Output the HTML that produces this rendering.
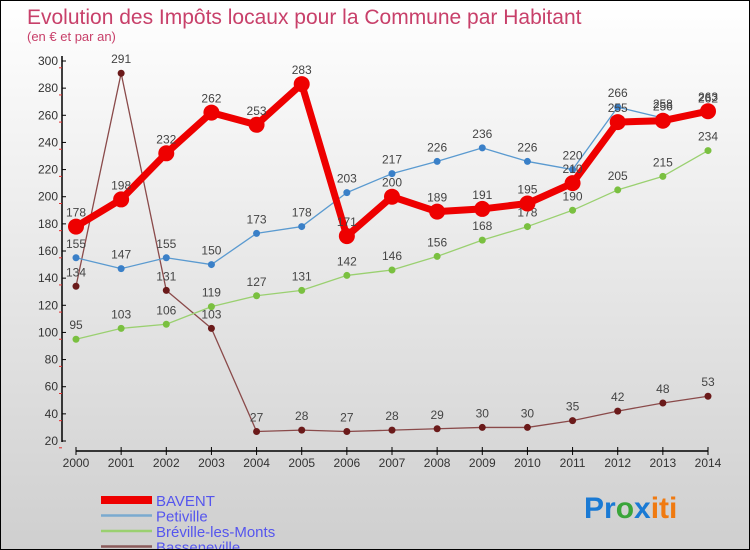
<!DOCTYPE html>
<html><head><meta charset="utf-8"><style>
body{margin:0;}
#c{width:750px;height:550px;position:relative;overflow:hidden;box-sizing:border-box;border:1px solid #000;background:linear-gradient(#ffffff,#cfcfcf);font-family:"Liberation Sans",sans-serif;}
</style></head><body>
<div id="c">
<svg id="s" width="750" height="550" style="position:absolute;left:0;top:0">
<text x="26" y="23" font-size="21" fill="#c8406a">Evolution des Impôts locaux pour la Commune par Habitant</text>
<text x="26" y="40" font-size="13" fill="#c8406a">(en € et par an)</text>
<g id="axes"></g><g id="series"></g><g id="legend"></g>
<text x="583" y="517" font-size="30" font-weight="bold"><tspan fill="#1a7ad4">Pr</tspan><tspan fill="#3aa53a">o</tspan><tspan fill="#1a7ad4">x</tspan><tspan fill="#f07a10">iti</tspan></text>
</svg>
</div>
<script>
const years=[2000,2001,2002,2003,2004,2005,2006,2007,2008,2009,2010,2011,2012,2013,2014];
const yTicks=[20,40,60,80,100,120,140,160,180,200,220,240,260,280,300];
const bavent=[178,198,232,262,253,283,171,200,189,191,195,210,255,256,263];
const petiville=[155,147,155,150,173,178,203,217,226,236,226,220,266,258,262];
const breville=[95,103,106,119,127,131,142,146,156,168,178,190,205,215,234];
const basseneville=[134,291,131,103,27,28,27,28,29,30,30,35,42,48,53];
const names=["BAVENT","Petiville","Bréville-les-Monts","Basseneville"];
const NS="http://www.w3.org/2000/svg";
const X=i=>75+i*(707-75)/14;
const Y=v=>440-(v-20)*(380/280);
function mk(t,a,p){const e=document.createElementNS(NS,t);for(const k in a)e.setAttribute(k,a[k]);p.appendChild(e);return e;}
const ax=document.getElementById('axes');
mk('line',{x1:61,y1:55,x2:61,y2:441,stroke:'#000','stroke-width':1.5},ax);
mk('line',{x1:75,y1:450,x2:707,y2:450,stroke:'#000','stroke-width':1.5},ax);
yTicks.forEach(v=>{
 mk('line',{x1:61,y1:Y(v),x2:65,y2:Y(v),stroke:'#000'},ax);
 mk('line',{x1:58,y1:Y(v)+6.8,x2:61,y2:Y(v)+6.8,stroke:'#e03030'},ax);
 const t=mk('text',{x:57,y:Y(v)+4,'font-size':12,fill:'#333','text-anchor':'end'},ax);t.textContent=v;
 
 
});
years.forEach((y,i)=>{
 mk('line',{x1:X(i),y1:446,x2:X(i),y2:454,stroke:'#000'},ax);
 const t=mk('text',{x:X(i),y:466,'font-size':12,fill:'#333','text-anchor':'middle'},ax);t.textContent=y;
 
 
});
const sg=document.getElementById('series');
function draw(vals,color,lw,r,dot,name){
 const g=mk('g',{},sg);
 
 
 mk('polyline',{points:vals.map((v,i)=>X(i)+','+Y(v)).join(' '),fill:'none',stroke:color,'stroke-width':lw,'stroke-linejoin':'round'},g);
 vals.forEach((v,i)=>{
  const c=mk('circle',{cx:X(i),cy:Y(v),r:r,fill:dot},g);
  
  
  const t=mk('text',{x:X(i),y:Y(v)-10,'font-size':12,fill:'#444','text-anchor':'middle'},g);t.textContent=v;
  
  
 });
}
draw(basseneville,'#8a4a4a',1.3,3.5,'#6b1a1a','basseneville-series');
draw(breville,'#9ad070',1.3,3.5,'#7ac040','breville-series');
draw(petiville,'#5a9ad0',1.3,3.5,'#3a80c8','petiville-series');
draw(bavent,'#ee0000',7,8,'#ee0000','bavent-series');
const lg=document.getElementById('legend');
const cols=['#ee0000','#7aaad0','#9ad070','#8a5a5a'],lws=[8,2.5,2.5,2.5];
names.forEach((n,k)=>{
 const y=493+k*15.5;
 const g=mk('g',{},lg);
 
 
 mk('line',{x1:100,y1:y+6,x2:151,y2:y+6,stroke:cols[k],'stroke-width':lws[k]},g);
 const t=mk('text',{x:155,y:y+12,'font-size':15,fill:'#5555ee'},g);t.textContent=n;
});
</script>
</body></html>
